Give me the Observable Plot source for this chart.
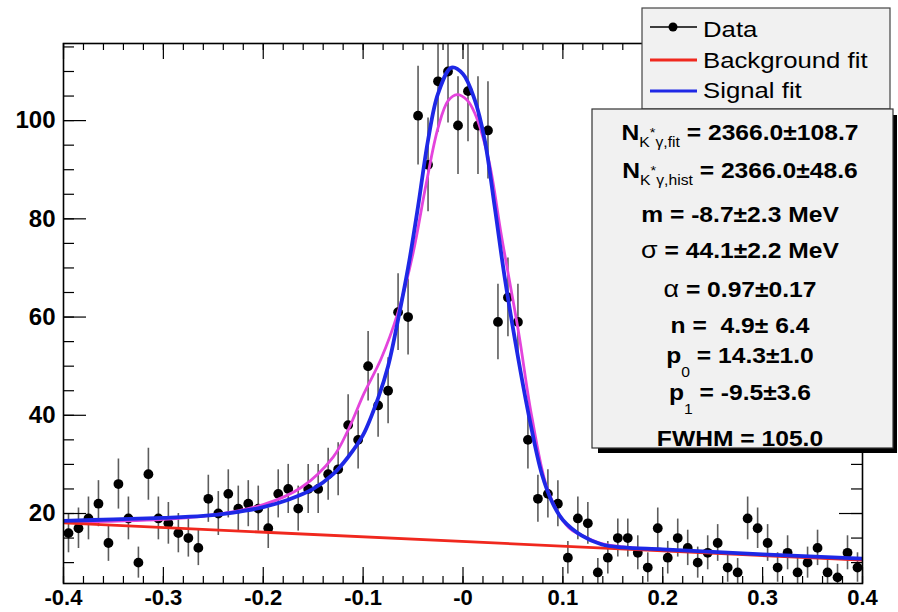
<!DOCTYPE html>
<html><head><meta charset="utf-8">
<script src="https://cdn.jsdelivr.net/npm/d3@7"></script>
<script src="https://cdn.jsdelivr.net/npm/@observablehq/plot@0.6"></script>
<style>
body{margin:0;background:#fff;}
#wrap{position:relative;width:898px;height:612px;overflow:hidden;font-family:"Liberation Sans",Arial,Helvetica,sans-serif;}
#overlay{position:absolute;left:0;top:0;}
#wrap svg text{fill:#000;}
</style></head><body><div id="wrap"></div>
<script>
// ---- data ----
const binCenters = [
-0.395,-0.385,-0.375,-0.365,-0.355,-0.345,-0.335,-0.325,-0.315,-0.305,
-0.295,-0.285,-0.275,-0.265,-0.255,-0.245,-0.235,-0.225,-0.215,-0.205,
-0.195,-0.185,-0.175,-0.165,-0.155,-0.145,-0.135,-0.125,-0.115,-0.105,
-0.095,-0.085,-0.075,-0.065,-0.055,-0.045,-0.035,-0.025,-0.015,-0.005,
0.005,0.015,0.025,0.035,0.045,0.055,0.065,0.075,0.085,0.095,
0.105,0.115,0.125,0.135,0.145,0.155,0.165,0.175,0.185,0.195,
0.205,0.215,0.225,0.235,0.245,0.255,0.265,0.275,0.285,0.295,
0.305,0.315,0.325,0.335,0.345,0.355,0.365,0.375,0.385,0.395];
const counts = [
16,17,19,22,14,26,19,10,28,19,
18,16,15,13,23,20,24,21,22,21,
17,24,25,21,25,25,28,29,38,35,
50,42,45,61,60,101,91,108,110,99,
106,99,98,59,64,59,35,23,24,22,
11,19,18,8,11,15,15,12,9,17,
11,15,13,10,12,14,9,8,19,17,
14,9,12,8,10,13,8,7,12,9];

const xTickValues = [-0.4,-0.3,-0.2,-0.1,0,0.1,0.2,0.3,0.4];
const xTickLabels = ["-0.4","-0.3","-0.2","-0.1","-0","0.1","0.2","0.3","0.4"];
const yTickValues = [20,40,60,80,100];
const yTickLabels = ["20","40","60","80","100"];

const bgFitX = [-0.4, 0.4];
const bgFitY = [18.1, 10.5];

const signalFitX = [-0.40,-0.35,-0.30,-0.26,-0.23,-0.20,-0.175,-0.15,-0.13,-0.115,-0.10,-0.085,-0.075,-0.065,-0.055,-0.045,-0.035,-0.025,-0.0115,0.0,0.0116,0.0217,0.0317,0.0418,0.0558,0.0659,0.079,0.09,0.10,0.119,0.139,0.16,0.20,0.30,0.40];
const signalFitY = [18.5,18.8,19.1,19.5,20.2,21.3,22.8,25.0,28.0,31.5,36.0,43.5,50,59.5,70,82.5,96,105.5,110.8,109.5,104.3,96.1,82.5,68,51,40,28,22,18.7,15.5,13.7,13.1,12.7,11.7,10.8];

const altFitX = [-0.40,-0.30,-0.25,-0.20,-0.162,-0.13,-0.115,-0.099,-0.082,-0.065,-0.05,-0.037,-0.025,-0.015,-0.006,0.004,0.0116,0.0257,0.0387,0.0558,0.069,0.086,0.106,0.119,0.14,0.17,0.25,0.40];
const altFitY = [18.2,18.8,19.7,21.8,25.3,31.5,37,44.5,51.5,61,73,87,98.5,104,105.3,104.2,101.6,92,76.3,56.7,39.6,24.1,17.1,15.5,13.8,13.0,12.1,10.6];

const legendLabels = ["Data","Background fit","Signal fit"];

// ---- build ----
const W = 898, H = 612, mL = 63, mR = 36, mT = 43, mB = 29;
const innerW = W - mL - mR, innerH = H - mT - mB;
const RED = "#f0281e", BLUE = "#1e28e6", MAG = "#e444dc";

const data = binCenters.map((x, i) => ({x, y: counts[i]}));
const bg = bgFitX.map((x, i) => ({x, y: bgFitY[i]}));
const sig = signalFitX.map((x, i) => ({x, y: signalFitY[i]}));
const alt = altFitX.map((x, i) => ({x, y: altFitY[i]}));
const minorX = d3.range(-0.4, 0.4001, 0.02);
const minorY = d3.range(10, 115.01, 5);

const plot = Plot.plot({
  width: W, height: H,
  marginLeft: mL, marginRight: mR, marginTop: mT, marginBottom: mB,
  x: {domain: [-0.4, 0.4]},
  y: {domain: [5.75, 115.7]},
  style: {fontFamily: "'Liberation Sans', Arial, sans-serif", background: "white", color: "black"},
  marks: [
    Plot.ruleX(data, {x: "x", y1: d => d.y - Math.sqrt(d.y), y2: d => d.y + Math.sqrt(d.y), stroke: "#5c5c5c", strokeWidth: 1.6, clip: true}),
    Plot.dot(data, {x: "x", y: "y", r: 4.9, fill: "black", stroke: "none", clip: true}),
    Plot.line(alt, {x: "x", y: "y", stroke: MAG, strokeWidth: 2.8, curve: "catmull-rom", clip: true}),
    Plot.line(bg, {x: "x", y: "y", stroke: RED, strokeWidth: 2.8, clip: true}),
    Plot.line(sig, {x: "x", y: "y", stroke: BLUE, strokeWidth: 3.8, curve: "catmull-rom", clip: true}),
    // inward ticks
    Plot.tickX(minorX, {x: d => d, insetTop: innerH - 7, stroke: "black", strokeWidth: 1.2}),
    Plot.tickX(xTickValues, {x: d => d, insetTop: innerH - 16, stroke: "black", strokeWidth: 1.2}),
    Plot.tickX(minorX, {x: d => d, insetBottom: innerH - 7, stroke: "black", strokeWidth: 1.2}),
    Plot.tickX(xTickValues, {x: d => d, insetBottom: innerH - 16, stroke: "black", strokeWidth: 1.2}),
    Plot.tickY(minorY, {y: d => d, insetRight: innerW - 11, stroke: "black", strokeWidth: 1.2}),
    Plot.tickY(yTickValues, {y: d => d, insetRight: innerW - 23, stroke: "black", strokeWidth: 1.2}),
    Plot.tickY(minorY, {y: d => d, insetLeft: innerW - 11, stroke: "black", strokeWidth: 1.2}),
    Plot.tickY(yTickValues, {y: d => d, insetLeft: innerW - 23, stroke: "black", strokeWidth: 1.2}),
    Plot.frame({stroke: "black", strokeWidth: 1.6}),
    Plot.axisX({ticks: xTickValues, tickFormat: d => xTickLabels[xTickValues.indexOf(d)], tickSize: 0, tickPadding: 6, fontSize: 22, fontWeight: "bold", label: null}),
    Plot.axisY({ticks: yTickValues, tickFormat: d => yTickLabels[yTickValues.indexOf(d)], tickSize: 0, tickPadding: 8, fontSize: 24, fontWeight: "bold", label: null})
  ]
});
plot.querySelectorAll('[aria-label$="axis tick label"] text, g[aria-label$="axis tick label"]').forEach(el => el.setAttribute("font-weight", "bold"));
document.getElementById("wrap").appendChild(plot);

// ---- legend & stats box overlay ----
const ov = d3.select("#wrap").append("svg").attr("id", "overlay")
  .attr("width", W).attr("height", H)
  .style("font-family", "'Liberation Sans', Arial, sans-serif");

// legend box
ov.append("rect").attr("x", 642).attr("y", 8).attr("width", 248).attr("height", 101)
  .attr("fill", "#f1f1f1").attr("stroke", "#444").attr("stroke-width", 1.2);
const legY = [27, 60, 91], legBase = [37, 68, 98];
const legColors = ["black", RED, BLUE];
legendLabels.forEach((lab, i) => {
  ov.append("line").attr("x1", 650).attr("x2", 697).attr("y1", legY[i]).attr("y2", legY[i])
    .attr("stroke", legColors[i]).attr("stroke-width", i === 0 ? 1.5 : 3.2);
  if (i === 0) ov.append("circle").attr("cx", 673).attr("cy", legY[i]).attr("r", 4.5).attr("fill", "black");
  ov.append("text").attr("transform", `translate(703,${legBase[i]}) scale(1.12,1)`)
    .attr("font-size", 23).attr("fill", "#111").text(lab);
});

// stats box with shadow
ov.append("rect").attr("x", 598).attr("y", 448).attr("width", 299).attr("height", 5).attr("fill", "#000");
ov.append("rect").attr("x", 893).attr("y", 115).attr("width", 4).attr("height", 338).attr("fill", "#000");
ov.append("rect").attr("x", 592).attr("y", 109).attr("width", 301).attr("height", 339)
  .attr("fill", "#f1f1f1").attr("stroke", "#333").attr("stroke-width", 1.2);

const statLines = [
  {base: 140, parts: [["N"], ["K", {sub: true}], ["*", {sup: true}], ["γ,fit", {sub: true, back: true}], [" = 2366.0±108.7", {main: true}]]},
  {base: 178, parts: [["N"], ["K", {sub: true}], ["*", {sup: true}], ["γ,hist", {sub: true, back: true}], [" = 2366.0±48.6", {main: true}]]},
  {base: 222, parts: [["m = -8.7±2.3 MeV"]]},
  {base: 258, parts: [["σ", {greek: true}], [" = 44.1±2.2 MeV"]]},
  {base: 297, parts: [["α", {greek: true}], [" = 0.97±0.17"]]},
  {base: 333, parts: [["n =  4.9± 6.4"]]},
  {base: 363, parts: [["p"], ["0", {sub: true, deep: true}], [" = 14.3±1.0", {main: true, deep: true}]]},
  {base: 400, parts: [["p"], ["1", {sub: true, deep: true}], [" = -9.5±3.6", {main: true, deep: true}]]},
  {base: 446, parts: [["FWHM = 105.0"]]}
];
statLines.forEach(line => {
  const t = ov.append("text").attr("transform", `translate(740,${line.base}) scale(1.12,1)`)
    .attr("text-anchor", "middle").attr("font-size", 22).attr("font-weight", "bold")
    .attr("fill", "#151515").style("white-space", "pre");
  let level = 0;
  line.parts.forEach(([txt, o = {}]) => {
    const sp = t.append("tspan").text(txt);
    let target = 0;
    if (o.sub) { target = o.deep ? 14 : 7; sp.attr("font-size", 14).attr("font-weight", "normal"); }
    else if (o.sup) { target = -3; sp.attr("font-size", 13).attr("font-weight", "normal"); }
    if (o.greek) sp.attr("font-weight", "normal").attr("font-size", 24);
    if (o.back) target = 7;
    const dy = target - level;
    if (dy !== 0) sp.attr("dy", dy);
    level = target;
  });
});
</script>
</body></html>
